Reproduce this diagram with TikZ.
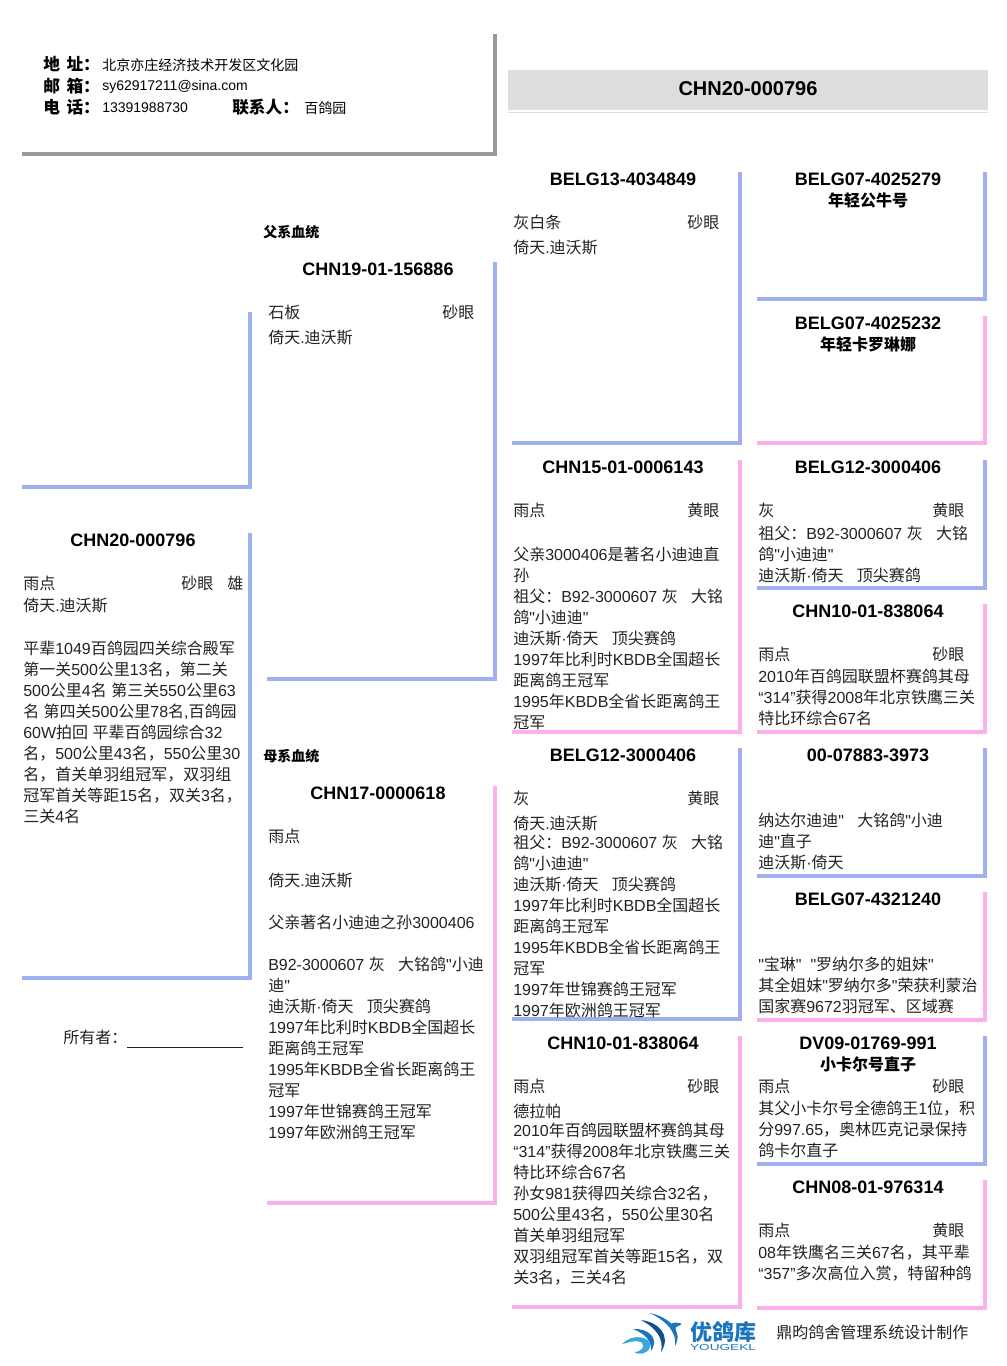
\documentclass[tikz,border=0pt]{standalone}
\usepackage{fontspec}
\usetikzlibrary{positioning}
\setmainfont{Liberation Sans}[Ligatures=TeXOff]
\newfontfamily\cjk{Noto Sans CJK SC}
% CJK runs change font by themselves
\XeTeXinterchartokenstate=1
\newXeTeXintercharclass\cjkclass
\newcount\cjkcount
\cjkcount="3000
\loop\XeTeXcharclass\cjkcount=\cjkclass\ifnum\cjkcount<"9FFF\advance\cjkcount by 1\repeat
\cjkcount="FF00
\loop\XeTeXcharclass\cjkcount=\cjkclass\ifnum\cjkcount<"FF65\advance\cjkcount by 1\repeat
\XeTeXinterchartoks 0 \cjkclass={\begingroup\cjk}
\XeTeXinterchartoks 4095 \cjkclass={\begingroup\cjk}
\XeTeXinterchartoks \cjkclass 0={\endgroup}
\XeTeXinterchartoks \cjkclass 4095={\endgroup}
\definecolor{SireBlue}{HTML}{9FB0F0}
\definecolor{DamPink}{HTML}{FBB0EC}
\definecolor{FrameGray}{HTML}{999999}
\definecolor{BandGray}{HTML}{DDDDDD}
\definecolor{TextGray}{HTML}{222222}
\definecolor{LogoBlue}{HTML}{1B75BC}
\definecolor{LogoDark}{HTML}{10508F}
\definecolor{LogoSky}{HTML}{3AA6DD}
\tikzset{
  bar/.style={line width=3pt,line cap=butt,line join=miter},
  pid/.style={inner sep=0pt,anchor=center,font=\fontsize{13.5}{16}\selectfont\bfseries},
  aka/.style={inner sep=0pt,anchor=center,font=\fontsize{12}{14}\selectfont\bfseries\cjk},
  txt/.style={inner sep=0pt,anchor=west,text=TextGray,font=\fontsize{12}{15.75}\selectfont},
  para/.style={inner sep=0pt,anchor=north west,align=left,text=TextGray,yshift=-1.5pt,font=\fontsize{12}{15.75}\selectfont},
  lab/.style={inner sep=0pt,anchor=west,font=\fontsize{12.5}{14}\selectfont\bfseries},
  info/.style={inner sep=0pt,anchor=west,font=\fontsize{10.5}{13}\selectfont},
  side/.style={inner sep=0pt,anchor=west,font=\fontsize{10.5}{12}\selectfont\bfseries},
}
\begin{document}
\begin{tikzpicture}[x=.75pt,y=-.75pt]
  \useasboundingbox (0,0) rectangle (1006,1366);
  % header
  \draw[bar,FrameGray] (22,154) -- (495,154) -- (495,34);
  \node[lab] (addrlab) at (43,64) {地 \hspace{1.5pt}址：};
  \node[lab] (maillab) at (43,86) {邮 \hspace{1.5pt}箱：};
  \node[lab] (tellab) at (43,107) {电 \hspace{1.5pt}话：};
  \node[info] (addr) at (102,65) {北京亦庄经济技术开发区文化园};
  \node[info] (mail) at (102,87) {sy62917211@sina.com};
  \node[info] (tel) at (102,108) {13391988730};
  \node[lab] (contlab) at (232,107) {联系人：};
  \node[info] (cont) at (304,108) {百鸽园};
  \fill[BandGray] (508,70) rectangle (988,110);
  \draw[BandGray,line width=.75pt] (508,112.5) -- (988,112.5);
  \node[font=\fontsize{15}{18}\selectfont\bfseries,inner sep=0pt] (title) at (748,89) {CHN20-000796};
  % brackets
  \foreach \xa/\xb/\ya/\yb/\col in {
    22/250/312/487/SireBlue, 22/250/533/978/SireBlue,
    267/495/262/679/SireBlue, 267/495/786/1203/DamPink,
    512/740/172/443/SireBlue, 512/740/460/732/DamPink,
    512/740/748/1019/SireBlue, 512/740/1036/1307/DamPink,
    757/985/172/299/SireBlue, 757/985/316/443/DamPink,
    757/985/460/588/SireBlue, 757/985/604/732/DamPink,
    757/985/748/876/SireBlue, 757/985/892/1020/DamPink,
    757/985/1036/1164/SireBlue, 757/985/1180/1308/DamPink}
    \draw[bar,\col] (\xa,\yb) -- (\xb,\yb) -- (\xb,\ya);
  % subject
  \node[pid] (self) at (133,540) {CHN20-000796};
  \node[txt] (selfcol) at (23,583) {雨点};
  \node[txt] (selfeye) at (181,583) {砂眼};
  \node[txt] (selfsex) at (227,583) {雄};
  \node[txt] (selfln) at (23,606) {倚天.迪沃斯};
  \node[para] (selfnote) at (23,639) {平辈1049百鸽园四关综合殿军\\第一关500公里13名，第二关\\500公里4名 第三关550公里63\\名 第四关500公里78名,百鸽园\\60W拍回 平辈百鸽园综合32\\名，500公里43名，550公里30\\名，首关单羽组冠军，双羽组\\冠军首关等距15名，双关3名，\\三关4名};
  \node[txt] (owner) at (63,1039) {所有者：\rule[-3.5pt]{87pt}{.75pt}};
  % sire side
  \node[side] (sirehd) at (263,232) {父系血统};
  \node[pid] (sire) at (378,269) {CHN19-01-156886};
  \node[txt] (sirecol) at (268,312) {石板};
  \node[txt] (sireeye) at (442,312) {砂眼};
  \node[txt] (sireln) at (268,338) {倚天.迪沃斯};
  % dam side
  \node[side] (damhd) at (263,756) {母系血统};
  \node[pid] (dam) at (378,793) {CHN17-0000618};
  \node[txt] (damcol) at (268,836) {雨点};
  \node[txt] (damln) at (268,881) {倚天.迪沃斯};
  \node[para] (damnote) at (268,913) {父亲著名小迪迪之孙3000406\\ \\B92-3000607 灰\ \ \ 大铭鸽"小迪\\迪"\\迪沃斯·倚天\ \ \ 顶尖赛鸽\\1997年比利时KBDB全国超长\\距离鸽王冠军\\1995年KBDB全省长距离鸽王\\冠军\\1997年世锦赛鸽王冠军\\1997年欧洲鸽王冠军};
  % third column
  \node[pid] (ss) at (623,179) {BELG13-4034849};
  \node[txt] (sscol) at (513,222) {灰白条};
  \node[txt] (sseye) at (687,222) {砂眼};
  \node[txt] (ssln) at (513,248) {倚天.迪沃斯};
  \node[pid] (sd) at (623,467) {CHN15-01-0006143};
  \node[txt] (sdcol) at (513,510) {雨点};
  \node[txt] (sdeye) at (687,510) {黄眼};
  \node[para] (sdnote) at (513,545) {父亲3000406是著名小迪迪直\\孙\\祖父：B92-3000607 灰\ \ \ 大铭\\鸽"小迪迪"\\迪沃斯·倚天\ \ \ 顶尖赛鸽\\1997年比利时KBDB全国超长\\距离鸽王冠军\\1995年KBDB全省长距离鸽王\\冠军};
  \node[pid] (ds) at (623,755) {BELG12-3000406};
  \node[txt] (dscol) at (513,798) {灰};
  \node[txt] (dseye) at (687,798) {黄眼};
  \node[txt] (dsln) at (513,824) {倚天.迪沃斯};
  \node[para] (dsnote) at (513,833) {祖父：B92-3000607 灰\ \ \ 大铭\\鸽"小迪迪"\\迪沃斯·倚天\ \ \ 顶尖赛鸽\\1997年比利时KBDB全国超长\\距离鸽王冠军\\1995年KBDB全省长距离鸽王\\冠军\\1997年世锦赛鸽王冠军\\1997年欧洲鸽王冠军};
  \node[pid] (dd) at (623,1043) {CHN10-01-838064};
  \node[txt] (ddcol) at (513,1086) {雨点};
  \node[txt] (ddeye) at (687,1086) {砂眼};
  \node[txt] (ddln) at (513,1111) {德拉帕};
  \node[para] (ddnote) at (513,1121) {2010年百鸽园联盟杯赛鸽其母\\“314”获得2008年北京铁鹰三关\\特比环综合67名\\孙女981获得四关综合32名，\\500公里43名，550公里30名\\首关单羽组冠军\\双羽组冠军首关等距15名，双\\关3名，三关4名};
  % fourth column
  \node[pid] (sss) at (868,179) {BELG07-4025279};
  \node[aka] (sssaka) at (868,200) {年轻公牛号};
  \node[pid] (ssd) at (868,323) {BELG07-4025232};
  \node[aka] (ssdaka) at (868,344) {年轻卡罗琳娜};
  \node[pid] (sds) at (868,467) {BELG12-3000406};
  \node[txt] (sdscol) at (758,510) {灰};
  \node[txt] (sdseye) at (932,510) {黄眼};
  \node[para] (sdsnote) at (758,524) {祖父：B92-3000607 灰\ \ \ 大铭\\鸽"小迪迪"\\迪沃斯·倚天\ \ \ 顶尖赛鸽};
  \node[pid] (sdd) at (868,611) {CHN10-01-838064};
  \node[txt] (sddcol) at (758,654) {雨点};
  \node[txt] (sddeye) at (932,654) {砂眼};
  \node[para] (sddnote) at (758,667) {2010年百鸽园联盟杯赛鸽其母\\“314”获得2008年北京铁鹰三关\\特比环综合67名};
  \node[pid] (dss) at (868,755) {00-07883-3973};
  \node[para] (dssnote) at (758,811) {纳达尔迪迪"\ \ \ 大铭鸽"小迪\\迪"直子\\迪沃斯·倚天};
  \node[pid] (dsd) at (868,899) {BELG07-4321240};
  \node[para] (dsdnote) at (758,955) {"宝琳"\ \ "罗纳尔多的姐妹"\\其全姐妹"罗纳尔多"荣获利蒙治\\国家赛9672羽冠军、区域赛};
  \node[pid] (dds) at (868,1043) {DV09-01769-991};
  \node[aka] (ddsaka) at (868,1064) {小卡尔号直子};
  \node[txt] (ddscol) at (758,1086) {雨点};
  \node[txt] (ddseye) at (932,1086) {砂眼};
  \node[para] (ddsnote) at (758,1099) {其父小卡尔号全德鸽王1位，积\\分997.65，奥林匹克记录保持\\鸽卡尔直子};
  \node[pid] (ddd) at (868,1187) {CHN08-01-976314};
  \node[txt] (dddcol) at (758,1230) {雨点};
  \node[txt] (dddeye) at (932,1230) {黄眼};
  \node[para] (dddnote) at (758,1243) {08年铁鹰名三关67名，其平辈\\“357”多次高位入赏，特留种鸽};
  % footer
  \fill[LogoBlue] (650,1313) .. controls (668,1317) and (684,1330) .. (675,1346) .. controls (677,1333) and (668,1322) .. (650,1313) -- cycle;
  \fill[LogoDark] (641,1320) .. controls (658,1322) and (672,1335) .. (661,1352) .. controls (664,1338) and (656,1328) .. (641,1320) -- cycle;
  \fill[LogoBlue] (633,1329) .. controls (648,1328) and (660,1338) .. (651,1351) .. controls (652,1342) and (646,1334) .. (633,1329) -- cycle;
  \fill[LogoSky] (622,1344) .. controls (632,1333) and (652,1336) .. (650,1347) .. controls (647,1355) and (638,1355) .. (634,1352) .. controls (642,1352) and (646,1346) .. (641,1342) .. controls (636,1340) and (630,1342) .. (622,1344) -- cycle;
  \fill[LogoBlue] (669,1325) .. controls (673,1322) and (678,1322) .. (682,1324) -- (676,1327) -- (674,1335) -- cycle;
  \node[inner sep=0pt,text=LogoBlue,font=\fontsize{16.5}{18}\selectfont\bfseries] (logoname) at (723,1332) {优鸽库};
  \node[inner sep=0pt,text=LogoBlue,font=\fontsize{6.5}{8}\selectfont] (logolatin) at (723,1347) {\scalebox{1.57}[1]{YOUGEKL}};
  \node[txt] (maker) at (776,1332) {鼎昀鸽舍管理系统设计制作};
\end{tikzpicture}
\end{document}
